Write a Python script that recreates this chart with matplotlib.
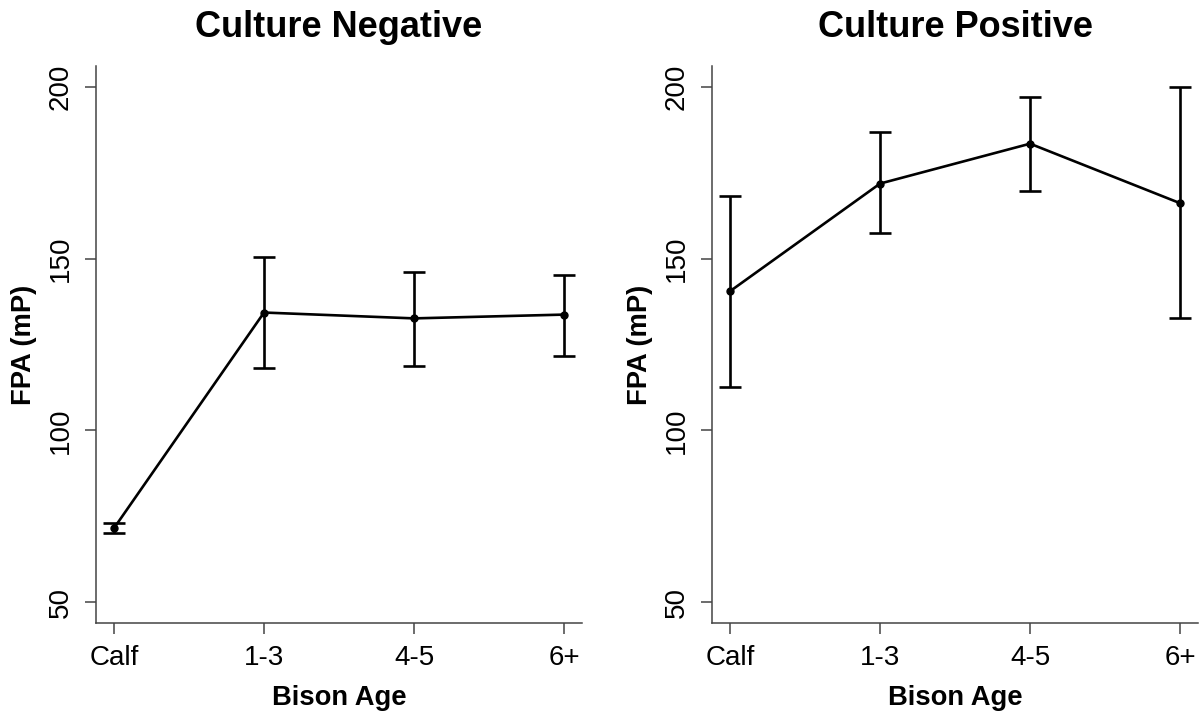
import matplotlib
matplotlib.use("Agg")
import matplotlib.pyplot as plt
import numpy as np

plt.rcParams['font.family'] = ['Liberation Sans', 'DejaVu Sans']

#### DATA
ages = ["Calf", "1-3", "4-5", "6+"]

neg_mean = [71.6, 134.3, 132.6, 133.7]
neg_lower = [70.2, 118.1, 118.7, 121.8]
neg_upper = [73.2, 150.4, 146.2, 145.1]

pos_mean = [140.5, 171.8, 183.4, 166.1]
pos_lower = [112.6, 157.3, 169.5, 132.6]
pos_upper = [168.1, 186.7, 196.9, 200.0]

titles = ["Culture Negative", "Culture Positive"]
yticks = [50, 100, 150, 200]

#### FIGURE
fig = plt.figure(figsize=(12.03, 7.17), dpi=100)
ax_l = fig.add_axes([0.0798, 0.131, 0.404, 0.777])
ax_r = fig.add_axes([0.5919, 0.131, 0.404, 0.777])

panels = [
    (ax_l, titles[0], neg_mean, neg_lower, neg_upper),
    (ax_r, titles[1], pos_mean, pos_lower, pos_upper),
]

x = np.arange(1, len(ages) + 1)
axis_col = "#444444"

for ax, title, mean, lo, hi in panels:
    mean = np.array(mean)
    err = np.vstack([mean - np.array(lo), np.array(hi) - mean])
    ax.errorbar(x, mean, yerr=err, color="black", lw=1.9, elinewidth=1.9,
                capsize=8, capthick=1.9, marker="o", markersize=5)
    ax.set_xlim(0.88, 4.12)
    ax.set_ylim(44, 206)
    ax.set_xticks(x)
    ax.set_xticklabels(ages)
    ax.set_yticks(yticks)
    ax.set_yticklabels([str(v) for v in yticks], rotation=90, va="center")
    for side in ["top", "right"]:
        ax.spines[side].set_visible(False)
    for side in ["left", "bottom"]:
        ax.spines[side].set_color(axis_col)
        ax.spines[side].set_linewidth(1.1)
    ax.tick_params(direction="out", length=8, width=1.1, color=axis_col,
                   labelsize=20, pad=8)
    ax.set_title(title, fontsize=26, fontweight="bold", pad=21)
    ax.set_xlabel("Bison Age", fontsize=19.7, fontweight="bold", labelpad=10)
    ax.set_ylabel("FPA (mP)", fontsize=19.7, fontweight="bold", labelpad=8)

fig.savefig("out.png", dpi=100)
